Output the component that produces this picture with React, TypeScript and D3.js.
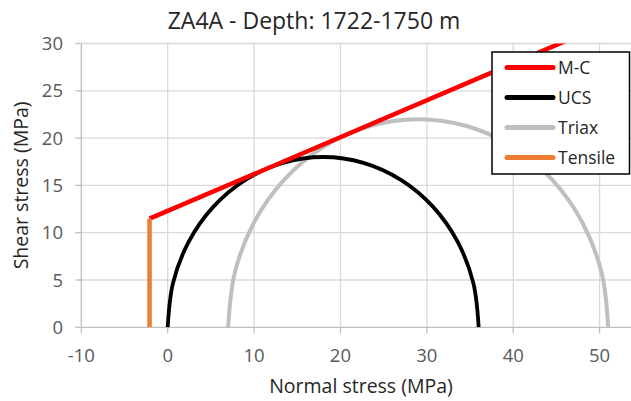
import React, { useEffect, useRef } from 'react';
import * as d3 from 'd3';

const width = 631;
const height = 401;

const title = 'ZA4A - Depth: 1722-1750 m';
const xTicks = [-10, 0, 10, 20, 30, 40, 50];
const yTicks = [0, 5, 10, 15, 20, 25, 30];

// Mohr circles, principal stresses in MPa
const ucsCircle = { sigma3: 0, sigma1: 36 };
const triaxCircle = { sigma3: 7, sigma1: 51 };
const circleAngles = [0, 15, 30, 45, 60, 75, 90, 105, 120, 135, 150, 165, 180];

// Mohr-Coulomb envelope and tension cut-off
const cohesion = 12.3;
const frictionAngle = 21.3;
const tensileStrength = -2.1;
const envelopeEnd = 50;

const legendItems = [
  { name: 'M-C', color: '#ff0000' },
  { name: 'UCS', color: '#000000' },
  { name: 'Triax', color: '#bfbfbf' },
  { name: 'Tensile', color: '#ed7d31' },
];

const font = '"Open Sans", sans-serif';

const MohrChart = () => {
  const ref = useRef(null);

  useEffect(() => {
    const svg = d3.select(ref.current);
    svg.selectAll('*').remove();

    const x = d3.scaleLinear().domain([-10, 50]).range([81.3, 599.6]);
    const y = d3.scaleLinear().domain([0, 30]).range([327.3, 43.5]);
    const left = x(-10);
    const right = width;
    const top = y(30);
    const bottom = y(0);

    svg
      .append('defs')
      .append('clipPath')
      .attr('id', 'plot-clip')
      .append('rect')
      .attr('x', left)
      .attr('y', top)
      .attr('width', right - left)
      .attr('height', bottom - top);

    // grid
    const grid = svg.append('g');
    grid
      .selectAll('line.v')
      .data(xTicks.slice(1))
      .enter()
      .append('line')
      .attr('x1', d => x(d))
      .attr('x2', d => x(d))
      .attr('y1', top)
      .attr('y2', bottom)
      .attr('stroke', '#d9d9d9')
      .attr('stroke-width', 1.3);
    grid
      .selectAll('line.h')
      .data(yTicks.slice(1))
      .enter()
      .append('line')
      .attr('x1', left)
      .attr('x2', right)
      .attr('y1', d => y(d))
      .attr('y2', d => y(d))
      .attr('stroke', '#d9d9d9')
      .attr('stroke-width', 1.3);

    // axes
    const axes = svg.append('g').attr('stroke', '#bfbfbf').attr('stroke-width', 1.3);
    axes.append('line').attr('x1', left).attr('x2', left).attr('y1', top).attr('y2', bottom + 0.7);
    axes.append('line').attr('x1', left).attr('x2', right).attr('y1', bottom).attr('y2', bottom);
    axes
      .selectAll('line.yt')
      .data(yTicks)
      .enter()
      .append('line')
      .attr('x1', left - 6)
      .attr('x2', left)
      .attr('y1', d => y(d))
      .attr('y2', d => y(d));
    axes
      .selectAll('line.xt')
      .data(xTicks)
      .enter()
      .append('line')
      .attr('x1', d => x(d))
      .attr('x2', d => x(d))
      .attr('y1', bottom)
      .attr('y2', bottom + 6);

    const labels = svg
      .append('g')
      .attr('font-family', font)
      .attr('font-size', 18.5)
      .attr('fill', '#595959');
    labels
      .selectAll('text.x')
      .data(xTicks)
      .enter()
      .append('text')
      .attr('x', d => x(d))
      .attr('y', 362)
      .attr('text-anchor', 'middle')
      .text(d => d);
    labels
      .selectAll('text.y')
      .data(yTicks)
      .enter()
      .append('text')
      .attr('x', 63)
      .attr('y', d => y(d) + 6.5)
      .attr('text-anchor', 'end')
      .text(d => d);

    const plot = svg.append('g').attr('clip-path', 'url(#plot-clip)');
    const line = d3
      .line()
      .x(d => x(d[0]))
      .y(d => y(d[1]));
    const smooth = d3
      .line()
      .x(d => x(d[0]))
      .y(d => y(d[1]))
      .curve(d3.curveCatmullRom);

    const circlePoints = c => {
      const centre = (c.sigma1 + c.sigma3) / 2;
      const radius = (c.sigma1 - c.sigma3) / 2;
      return circleAngles.map(a => {
        const r = (a * Math.PI) / 180;
        return [centre - radius * Math.cos(r), radius * Math.sin(r)];
      });
    };

    plot
      .append('path')
      .attr('d', smooth(circlePoints(triaxCircle)))
      .attr('fill', 'none')
      .attr('stroke', legendItems[2].color)
      .attr('stroke-width', 4);
    plot
      .append('path')
      .attr('d', smooth(circlePoints(ucsCircle)))
      .attr('fill', 'none')
      .attr('stroke', legendItems[1].color)
      .attr('stroke-width', 3.8);

    const slope = Math.tan((frictionAngle * Math.PI) / 180);
    const envelope = [
      [tensileStrength, cohesion + slope * tensileStrength],
      [envelopeEnd, cohesion + slope * envelopeEnd],
    ];
    plot
      .append('path')
      .attr('d', line(envelope))
      .attr('fill', 'none')
      .attr('stroke', legendItems[0].color)
      .attr('stroke-width', 4.5);
    plot
      .append('path')
      .attr('d', line([[tensileStrength, 0], envelope[0]]))
      .attr('fill', 'none')
      .attr('stroke', legendItems[3].color)
      .attr('stroke-width', 4.5);

    // legend
    const legend = svg.append('g').attr('transform', 'translate(492,52)');
    legend
      .append('rect')
      .attr('width', 137.5)
      .attr('height', 122)
      .attr('fill', '#fff')
      .attr('stroke', '#000')
      .attr('stroke-width', 1.5);
    const rows = legend
      .selectAll('g.row')
      .data(legendItems)
      .enter()
      .append('g')
      .attr('transform', (d, i) => `translate(0,${15.5 + i * 30})`);
    rows
      .append('line')
      .attr('x1', 15)
      .attr('x2', 61)
      .attr('stroke', d => d.color)
      .attr('stroke-width', 5)
      .attr('stroke-linecap', 'round');
    rows
      .append('text')
      .attr('x', 66)
      .attr('y', 6.5)
      .attr('font-family', font)
      .attr('font-size', 17.5)
      .attr('fill', '#262626')
      .text(d => d.name);

    svg
      .append('text')
      .attr('x', 314)
      .attr('y', 29)
      .attr('text-anchor', 'middle')
      .attr('font-family', font)
      .attr('font-size', 23)
      .attr('fill', '#262626')
      .text(title);
    svg
      .append('text')
      .attr('x', 361)
      .attr('y', 393)
      .attr('text-anchor', 'middle')
      .attr('font-family', font)
      .attr('font-size', 19.5)
      .attr('fill', '#262626')
      .text('Normal stress (MPa)');
    svg
      .append('text')
      .attr('transform', `translate(28,${(top + bottom) / 2}) rotate(-90)`)
      .attr('text-anchor', 'middle')
      .attr('font-family', font)
      .attr('font-size', 19.5)
      .attr('fill', '#262626')
      .text('Shear stress (MPa)');
  }, []);

  return (
    <svg
      ref={ref}
      width={width}
      height={height}
      style={{ position: 'absolute', left: 0, top: 0, background: '#fff' }}
    />
  );
};

export default function App() {
  return <MohrChart />;
}
